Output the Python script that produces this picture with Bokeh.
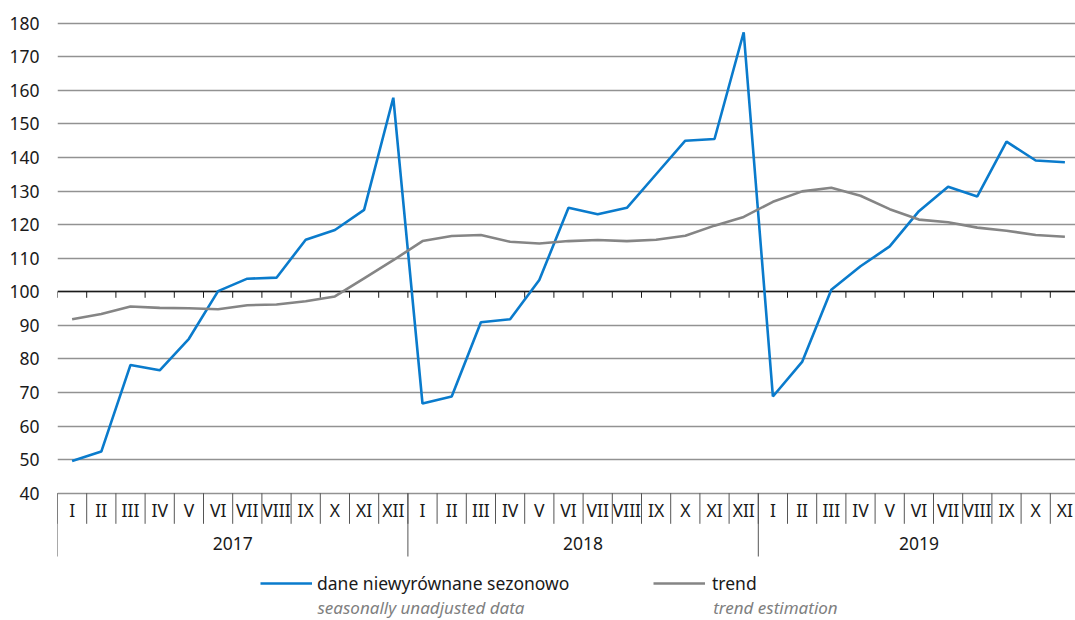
from bokeh.plotting import figure
from bokeh.models import FixedTicker, Range1d, Legend, LegendItem, Label
from bokeh.core.properties import value
from bokeh.embed import file_html
from bokeh.resources import INLINE

# ---------------- data ----------------
years = ["2017", "2018", "2019"]
months_2017 = ["I", "II", "III", "IV", "V", "VI", "VII", "VIII", "IX", "X", "XI", "XII"]
months_2018 = ["I", "II", "III", "IV", "V", "VI", "VII", "VIII", "IX", "X", "XI", "XII"]
months_2019 = ["I", "II", "III", "IV", "V", "VI", "VII", "VIII", "IX", "X", "XI"]

unadjusted_2017 = [49.6, 52.4, 78.2, 76.6, 86.0, 100.2, 103.9, 104.2, 115.5, 118.4, 124.4, 157.8]
unadjusted_2018 = [66.7, 68.8, 90.9, 91.8, 103.5, 125.0, 123.1, 125.0, 135.0, 145.0, 145.5, 177.3]
unadjusted_2019 = [68.8, 79.1, 100.6, 107.6, 113.5, 124.0, 131.3, 128.4, 144.7, 139.1, 138.6]

trend_2017 = [91.8, 93.4, 95.6, 95.2, 95.1, 94.8, 96.0, 96.2, 97.2, 98.6, 104.0, 109.4]
trend_2018 = [115.1, 116.6, 116.9, 114.9, 114.4, 115.1, 115.4, 115.1, 115.5, 116.7, 119.7, 122.3]
trend_2019 = [126.8, 129.9, 131.0, 128.6, 124.6, 121.5, 120.7, 119.1, 118.2, 116.9, 116.4]

y_ticks = [40, 50, 60, 70, 80, 90, 100, 110, 120, 130, 140, 150, 160, 170, 180]
baseline = 100

series_names = ["dane niewyrównane sezonowo", "trend"]
series_names_en = ["seasonally unadjusted data", "trend estimation"]

# ---------------- derived ----------------
month_groups = [months_2017, months_2018, months_2019]
months = months_2017 + months_2018 + months_2019
unadjusted = unadjusted_2017 + unadjusted_2018 + unadjusted_2019
trend = trend_2017 + trend_2018 + trend_2019
xs = list(range(len(months)))
boundaries = [i - 0.5 for i in range(len(months) + 1)]

year_bounds = [-0.5]
year_centers = []
start = 0
for g in month_groups:
    year_centers.append(start + (len(g) - 1) / 2)
    start += len(g)
    year_bounds.append(start - 0.5)

# ---------------- layout / style ----------------
W, H = 1075, 620
LEFT = 57
Y_TOP_PX = 22.7            # pixel row of the top tick
Y_BOT_PX = 492.7           # pixel row of the bottom tick
ymin, ymax = y_ticks[0], y_ticks[-1]
upp = (ymax - ymin) / (Y_BOT_PX - Y_TOP_PX)       # data units per pixel
y_end = ymax + Y_TOP_PX * upp
y_start = y_end - H * upp
X_PX = 29.2                                       # pixels per category
x_end = -0.5 + (W - LEFT) / X_PX

def below(px):
    """data y that lies px pixels below the lowest tick"""
    return ymin - px * upp

def cat_x(px):
    """data x of a pixel column px"""
    return -0.5 + (px - LEFT) / X_PX

BLUE = "#0a7bcc"
GREY = "#858585"
TXT = "#1a1a1a"
SEP = "#555555"
FONT = "Noto Sans"
FS = "17.5px"

p = figure(width=W, height=H,
           x_range=Range1d(-0.5, x_end), y_range=Range1d(y_start, y_end),
           output_backend="svg", toolbar_location=None,
           min_border_left=LEFT, min_border_right=0, min_border_top=0,
           min_border_bottom=0)
p.outline_line_color = None
p.background_fill_color = "white"
p.border_fill_color = "white"
p.xaxis.visible = False

# y axis
p.yaxis.ticker = FixedTicker(ticks=y_ticks)
p.yaxis.axis_line_color = None
p.yaxis.major_tick_line_color = None
p.yaxis.minor_tick_line_color = None
p.yaxis.major_tick_out = 0
p.yaxis.major_label_standoff = 18
p.yaxis.major_label_text_font = FONT
p.yaxis.major_label_text_font_size = FS
p.yaxis.major_label_text_color = TXT

p.ygrid.ticker = FixedTicker(ticks=y_ticks)
p.ygrid.grid_line_color = "#929292"
p.ygrid.grid_line_width = 1.3
p.xgrid.visible = False

# category table below the plot: month cells and year cells
p.segment(x0=boundaries, y0=[ymin] * len(boundaries),
          x1=boundaries, y1=[below(30.6)] * len(boundaries),
          line_color=SEP, line_width=1)
p.segment(x0=year_bounds, y0=[ymin] * len(year_bounds),
          x1=year_bounds, y1=[below(63.3)] * len(year_bounds),
          line_color=SEP, line_width=1)
p.text(x=xs, y=[below(16.6)] * len(xs), text=months,
       text_align="center", text_baseline="middle",
       text_font=value(FONT), text_font_size=FS, text_color=TXT)
p.text(x=year_centers, y=[below(50.0)] * len(year_centers), text=years,
       text_align="center", text_baseline="middle",
       text_font=value(FONT), text_font_size=FS, text_color=TXT)

# category axis crossing at 100
p.hspan(y=[baseline], line_color="#1a1a1a", line_width=1.3)
p.segment(x0=boundaries, y0=[baseline] * len(boundaries),
          x1=boundaries, y1=[baseline - 6 * upp] * len(boundaries),
          line_color="#1a1a1a", line_width=1)

r_blue = p.line(xs, unadjusted, line_color=BLUE, line_width=2.6)
r_grey = p.line(xs, trend, line_color=GREY, line_width=2.6)

# legends
def make_legend(label, renderer, loc, standoff):
    return Legend(items=[LegendItem(label=label, renderers=[renderer])],
                  location=loc, orientation="horizontal",
                  glyph_width=52, glyph_height=20, label_standoff=standoff,
                  padding=0, margin=0, spacing=0,
                  border_line_color=None, background_fill_alpha=0,
                  label_text_font=FONT, label_text_font_size=FS,
                  label_text_color=TXT)

p.add_layout(make_legend(series_names[0], r_blue, (203, 25), 5))
p.add_layout(make_legend(series_names[1], r_grey, (596, 25), 7))

for px, txt in [(317, series_names_en[0]), (712.7, series_names_en[1])]:
    p.add_layout(Label(x=cat_x(px), y=below(114.0), text=txt, text_font=FONT,
                       text_font_style="italic", text_font_size="17px",
                       text_color="#7f7f7f", text_baseline="middle"))

open("out.html", "w").write(file_html(p, INLINE))
